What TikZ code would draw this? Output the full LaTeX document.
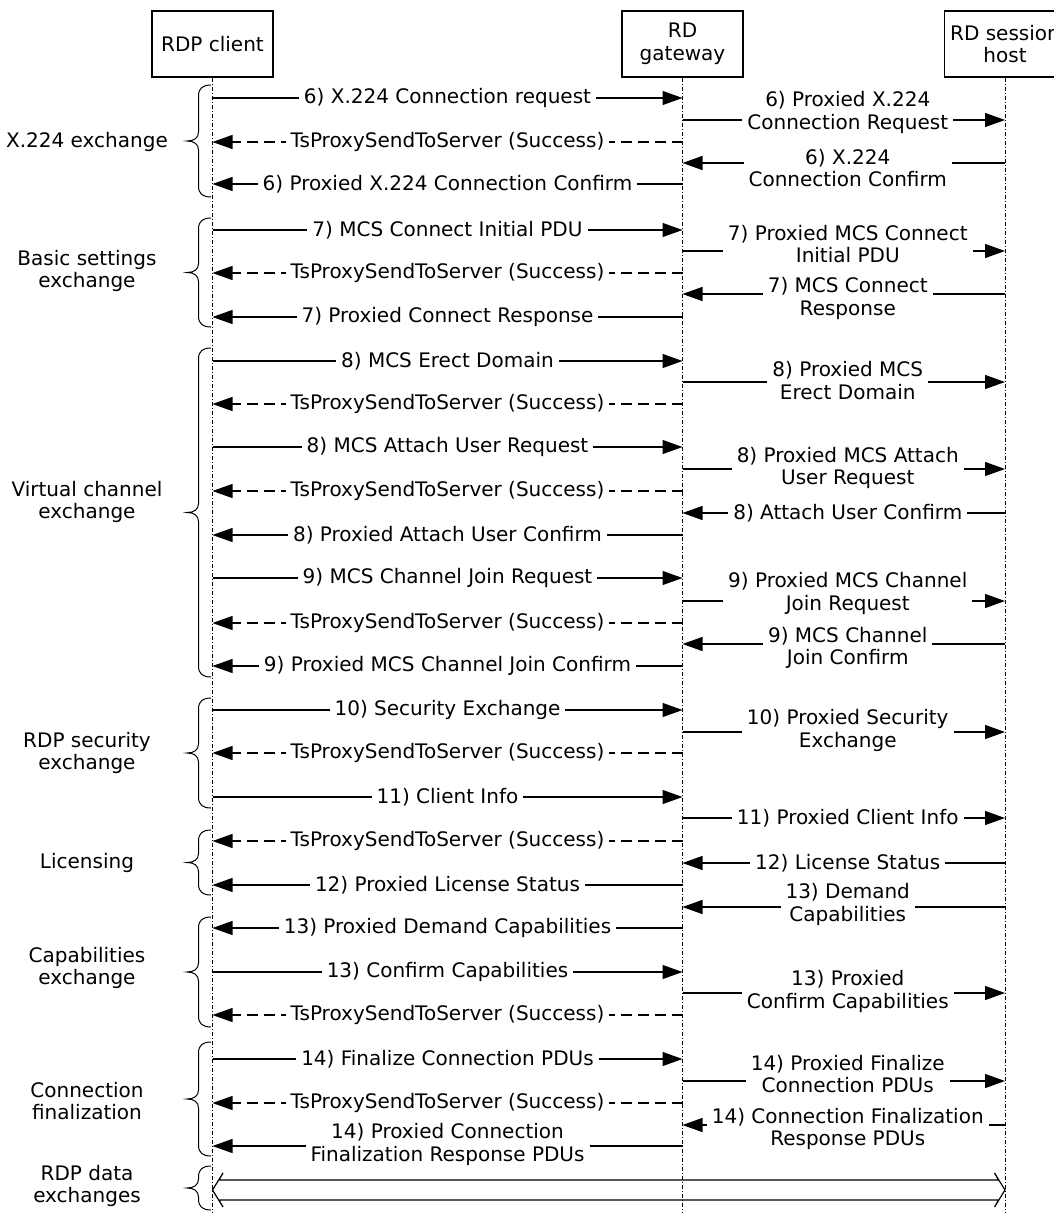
\documentclass[tikz,border=0pt]{standalone}
\usepackage{fontspec}
\setmainfont{DejaVu Sans}
\usetikzlibrary{arrows.meta}
\newcommand\grpbrace[2]{%
 \draw[brc] (211,#1) .. controls (203,#1) and (198.5,{#1+3}) .. (198.5,{#1+11})
   -- (198.5,{(#1+#2)/2-9}) .. controls (198.5,{(#1+#2)/2-3}) and (194,{(#1+#2)/2}) .. (187,{(#1+#2)/2})
   .. controls (194,{(#1+#2)/2}) and (198.5,{(#1+#2)/2+3}) .. (198.5,{(#1+#2)/2+9})
   -- (198.5,{#2-11}) .. controls (198.5,{#2-3}) and (203,#2) .. (211,#2);}
\begin{document}
\begin{tikzpicture}[x=1pt,y=-1pt,font=\fontsize{20}{22.5}\selectfont,
  actor/.style={draw,line width=1.3pt,minimum width=121pt,minimum height=66pt,align=center,inner sep=0pt},
  lifeline/.style={line width=0.9pt,dash pattern=on 4pt off 2pt on 1pt off 2pt},
  msg/.style={line width=1.3pt,-{Triangle[length=20pt,width=14pt]}},
  reply/.style={msg,dash pattern=on 11pt off 6pt},
  lbl/.style={fill=white,inner xsep=5pt,inner ysep=1pt,align=center},
  rl/.style={lbl,xshift=4pt},
  grp/.style={align=center},
  brc/.style={line width=1pt}]
\useasboundingbox (0,0) rectangle (1053,1213);
% actors
\node[actor] (cl) at (212.5,44) {RDP client};
\node[actor] (gw) at (682.5,44) {RD\\gateway};
\node[actor] (sh) at (1005,44) {RD session\\host};
\draw[lifeline] (cl.south) -- (cl.south |- 0,1213);
\draw[lifeline] (gw.south) -- (gw.south |- 0,1213);
\draw[lifeline] (sh.south) -- (sh.south |- 0,1213);
% group labels and braces
\node[grp] (g1) at (87,142) {X.224 exchange};
\node[grp] (g2) at (87,271) {Basic settings\\exchange};
\node[grp] (g3) at (87,502) {Virtual channel\\exchange};
\node[grp] (g4) at (87,753) {RDP security\\exchange};
\node[grp] (g5) at (87,863) {Licensing};
\node[grp] (g6) at (87,968) {Capabilities\\exchange};
\node[grp] (g7) at (87,1101) {Connection\\finalization};
\node[grp] (g8) at (87,1186) {RDP data\\exchanges};
\grpbrace{85}{197}
\grpbrace{218}{327}
\grpbrace{348}{677}
\grpbrace{698}{808}
\grpbrace{830}{895}
\grpbrace{917}{1027}
\grpbrace{1042}{1156}
\grpbrace{1166}{1210}
% X.224
\draw[msg] (cl |- 0,98) -- node[lbl]{6) X.224 Connection request} (gw |- 0,98);
\draw[msg] (gw |- 0,120) -- node[rl,yshift=7.5pt]{6) Proxied X.224\\Connection Request} (sh |- 0,120);
\draw[reply] (gw |- 0,142) -- node[lbl]{TsProxySendToServer (Success)} (cl |- 0,142);
\draw[msg] (sh |- 0,163) -- node[rl,yshift=-5pt]{6) X.224\\Connection Confirm} (gw |- 0,163);
\draw[msg] (gw |- 0,184) -- node[lbl]{6) Proxied X.224 Connection Confirm} (cl |- 0,184);
% basic settings
\draw[msg] (cl |- 0,230) -- node[lbl]{7) MCS Connect Initial PDU} (gw |- 0,230);
\draw[msg] (gw |- 0,251) -- node[rl,yshift=7pt]{7) Proxied MCS Connect\\Initial PDU} (sh |- 0,251);
\draw[reply] (gw |- 0,273) -- node[lbl]{TsProxySendToServer (Success)} (cl |- 0,273);
\draw[msg] (sh |- 0,294) -- node[rl,yshift=-4.5pt]{7) MCS Connect\\Response} (gw |- 0,294);
\draw[msg] (gw |- 0,317) -- node[lbl]{7) Proxied Connect Response} (cl |- 0,317);
% virtual channel
\draw[msg] (cl |- 0,361) -- node[lbl]{8) MCS Erect Domain} (gw |- 0,361);
\draw[msg] (gw |- 0,382) -- node[rl,yshift=1.5pt]{8) Proxied MCS\\Erect Domain} (sh |- 0,382);
\draw[reply] (gw |- 0,404) -- node[lbl]{TsProxySendToServer (Success)} (cl |- 0,404);
\draw[msg] (cl |- 0,447) -- node[lbl]{8) MCS Attach User Request} (gw |- 0,447);
\draw[msg] (gw |- 0,469) -- node[rl,yshift=1pt]{8) Proxied MCS Attach\\User Request} (sh |- 0,469);
\draw[reply] (gw |- 0,491) -- node[lbl]{TsProxySendToServer (Success)} (cl |- 0,491);
\draw[msg] (sh |- 0,513) -- node[rl]{8) Attach User Confirm} (gw |- 0,513);
\draw[msg] (gw |- 0,535) -- node[lbl]{8) Proxied Attach User Confirm} (cl |- 0,535);
\draw[msg] (cl |- 0,578) -- node[lbl]{9) MCS Channel Join Request} (gw |- 0,578);
\draw[msg] (gw |- 0,601) -- node[rl,yshift=7.5pt]{9) Proxied MCS Channel\\Join Request} (sh |- 0,601);
\draw[reply] (gw |- 0,623) -- node[lbl]{TsProxySendToServer (Success)} (cl |- 0,623);
\draw[msg] (sh |- 0,644) -- node[rl,yshift=-4pt]{9) MCS Channel\\Join Confirm} (gw |- 0,644);
\draw[msg] (gw |- 0,666) -- node[lbl]{9) Proxied MCS Channel Join Confirm} (cl |- 0,666);
% security
\draw[msg] (cl |- 0,710) -- node[lbl]{10) Security Exchange} (gw |- 0,710);
\draw[msg] (gw |- 0,732) -- node[rl,yshift=1.5pt]{10) Proxied Security\\Exchange} (sh |- 0,732);
\draw[reply] (gw |- 0,753) -- node[lbl]{TsProxySendToServer (Success)} (cl |- 0,753);
\draw[msg] (cl |- 0,797) -- node[lbl]{11) Client Info} (gw |- 0,797);
\draw[msg] (gw |- 0,818) -- node[rl]{11) Proxied Client Info} (sh |- 0,818);
% licensing
\draw[reply] (gw |- 0,841) -- node[lbl]{TsProxySendToServer (Success)} (cl |- 0,841);
\draw[msg] (sh |- 0,863) -- node[rl]{12) License Status} (gw |- 0,863);
\draw[msg] (gw |- 0,885) -- node[lbl]{12) Proxied License Status} (cl |- 0,885);
\draw[msg] (sh |- 0,907) -- node[rl,yshift=2.5pt]{13) Demand\\Capabilities} (gw |- 0,907);
% capabilities
\draw[msg] (gw |- 0,928) -- node[lbl]{13) Proxied Demand Capabilities} (cl |- 0,928);
\draw[msg] (cl |- 0,972) -- node[lbl]{13) Confirm Capabilities} (gw |- 0,972);
\draw[msg] (gw |- 0,993) -- node[rl,yshift=1.5pt]{13) Proxied\\Confirm Capabilities} (sh |- 0,993);
\draw[reply] (gw |- 0,1015) -- node[lbl]{TsProxySendToServer (Success)} (cl |- 0,1015);
% finalization
\draw[msg] (cl |- 0,1059) -- node[lbl]{14) Finalize Connection PDUs} (gw |- 0,1059);
\draw[msg] (gw |- 0,1081) -- node[rl,yshift=7pt]{14) Proxied Finalize\\Connection PDUs} (sh |- 0,1081);
\draw[reply] (gw |- 0,1103) -- node[lbl]{TsProxySendToServer (Success)} (cl |- 0,1103);
\draw[msg] (sh |- 0,1125) -- node[rl,yshift=-4pt]{14) Connection Finalization\\Response PDUs} (gw |- 0,1125);
\draw[msg] (gw |- 0,1146) -- node[lbl,yshift=1.5pt]{14) Proxied Connection\\Finalization Response PDUs} (cl |- 0,1146);
% data exchange double arrow
\coordinate (dl) at (cl |- 0,1190);
\coordinate (dr) at (sh |- 0,1190);
\draw[line width=1.2pt,line join=miter] (dl) -- ([shift={(10.5,-17)}]dl) -- ([shift={(6.5,-10)}]dl)
  -- ([shift={(-6.5,-10)}]dr) -- ([shift={(-10.5,-17)}]dr) -- (dr) -- ([shift={(-10.5,17)}]dr)
  -- ([shift={(-6.5,10)}]dr) -- ([shift={(6.5,10)}]dl) -- ([shift={(10.5,17)}]dl) -- cycle;
\end{tikzpicture}
\end{document}
